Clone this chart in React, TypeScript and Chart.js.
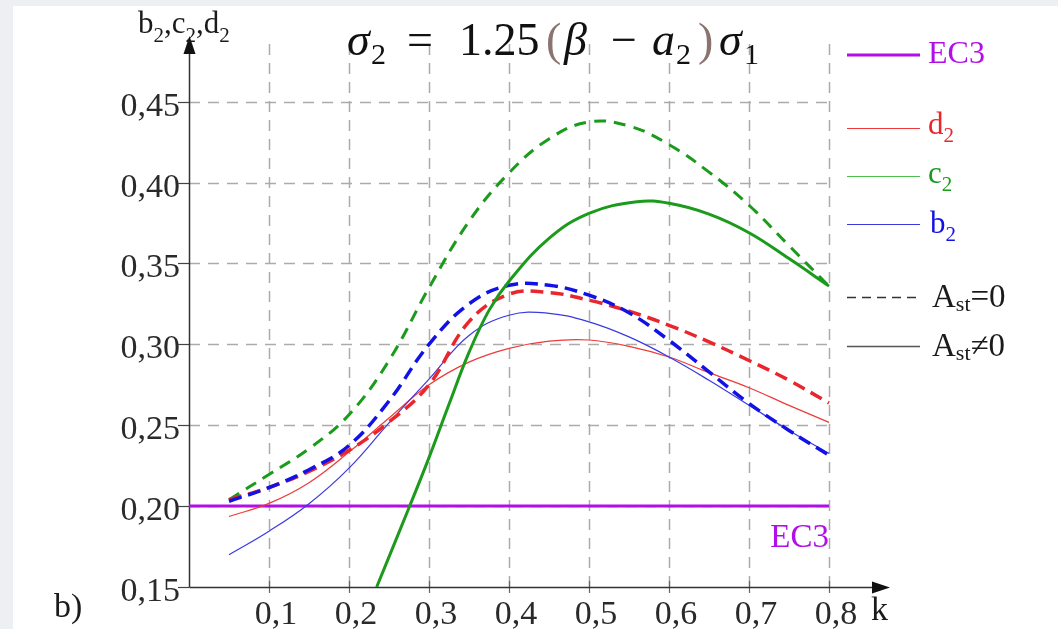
import React, { useEffect, useRef } from "react";
import { Chart, registerables } from "chart.js";

Chart.register(...registerables);

// ---- data ----
const K = [0.05, 0.1, 0.15, 0.2, 0.25, 0.3, 0.35, 0.4, 0.45, 0.5, 0.55, 0.6, 0.65, 0.7, 0.75, 0.8];

// A_st = 0 (dashed)
const D2_AST0 = [0.204, 0.2115, 0.2215, 0.2345, 0.252, 0.275, 0.314, 0.331, 0.332, 0.3273, 0.3205, 0.3118, 0.3015, 0.29, 0.2778, 0.2637];
const C2_AST0 = [0.204, 0.2196, 0.2355, 0.2565, 0.29, 0.335, 0.376, 0.406, 0.427, 0.4375, 0.435, 0.4235, 0.4065, 0.386, 0.361, 0.336];
const B2_AST0 = [0.203, 0.2115, 0.2225, 0.2375, 0.265, 0.3, 0.325, 0.3365, 0.3365, 0.3304, 0.3195, 0.3025, 0.283, 0.2635, 0.2468, 0.2314];

// A_st != 0 (solid)
const D2_AST = [0.1936, 0.2017, 0.2145, 0.2334, 0.2545, 0.275, 0.289, 0.2975, 0.302, 0.3027, 0.2988, 0.2922, 0.2825, 0.2732, 0.2623, 0.2518];
const B2_AST = [0.17, 0.1845, 0.2015, 0.2235, 0.2515, 0.2785, 0.3055, 0.318, 0.3192, 0.3139, 0.3046, 0.2922, 0.2778, 0.2623, 0.2468, 0.2326];
const K_C2_AST = [0.2346, 0.275, 0.3, 0.325, 0.35, 0.375, 0.4, 0.45, 0.5, 0.56, 0.6, 0.65, 0.7, 0.75, 0.8];
const C2_AST = [0.15, 0.199, 0.23, 0.263, 0.295, 0.321, 0.339, 0.3655, 0.381, 0.3882, 0.3872, 0.3805, 0.369, 0.353, 0.336];

// EC3 reference level
const K_EC3 = [0, 0.8];
const EC3 = [0.2, 0.2];

const X_TICKS = [0.1, 0.2, 0.3, 0.4, 0.5, 0.6, 0.7, 0.8];
const Y_TICKS = [0.15, 0.2, 0.25, 0.3, 0.35, 0.4, 0.45];

// ---- styles ----
const FONT = "'Liberation Serif', 'DejaVu Serif', serif";
const MAGENTA = "#b20ee8";
const RED = "#e8262b";
const RED_THIN = "#ee3a3a";
const GREEN = "#1b9a1b";
const BLUE = "#1212e6";
const BLUE_THIN = "#3a3ae2";
const PAREN = "#8b7470";

const pts = (xs: number[], ys: number[]) => xs.map((x, i) => ({ x, y: ys[i] }));
const comma = (v: number, d: number) => v.toFixed(d).replace(".", ",");

function txt(
  ctx: CanvasRenderingContext2D,
  s: string,
  x: number,
  y: number,
  size: number,
  color = "#1a1a1a",
  italic = false,
  align: CanvasTextAlign = "left"
): number {
  ctx.font = `${italic ? "italic " : ""}${size}px ${FONT}`;
  ctx.fillStyle = color;
  ctx.textAlign = align;
  ctx.textBaseline = "alphabetic";
  ctx.fillText(s, x, y);
  return x + ctx.measureText(s).width;
}

// sequential runs: [text, size, dy, italic]
function runs(
  ctx: CanvasRenderingContext2D,
  x: number,
  y: number,
  color: string,
  parts: [string, number, number, boolean?][]
) {
  let cx = x;
  for (const [s, size, dy, it] of parts) {
    cx = txt(ctx, s, cx, y + dy, size, color, !!it);
  }
}

const decor = {
  id: "decor",
  beforeDraw(chart: any) {
    const { ctx, width, height } = chart;
    ctx.save();
    ctx.fillStyle = "#edf0f3";
    ctx.fillRect(0, 0, width, height);
    ctx.fillStyle = "#ffffff";
    ctx.fillRect(13, 6, width - 13, height - 6);
    ctx.restore();
  },
  beforeDatasetsDraw(chart: any) {
    const { ctx, chartArea } = chart;
    const xs = chart.scales.x;
    const ys = chart.scales.y;
    const x0 = xs.getPixelForValue(0);
    const x8 = xs.getPixelForValue(0.8);
    const yb = ys.getPixelForValue(0.15);
    ctx.save();
    // dashed grid
    ctx.strokeStyle = "#ababab";
    ctx.lineWidth = 1.5;
    ctx.setLineDash([11, 8]);
    for (const v of X_TICKS) {
      const px = Math.round(xs.getPixelForValue(v)) + 0.5;
      ctx.beginPath();
      ctx.moveTo(px, yb);
      ctx.lineTo(px, chartArea.top + 2);
      ctx.stroke();
    }
    for (const v of Y_TICKS) {
      if (v <= 0.15) continue;
      const py = Math.round(ys.getPixelForValue(v)) + 0.5;
      ctx.beginPath();
      ctx.moveTo(x0, py);
      ctx.lineTo(x8, py);
      ctx.stroke();
    }
    ctx.setLineDash([]);
    // tick marks
    ctx.strokeStyle = "#444";
    ctx.lineWidth = 1.2;
    for (const v of Y_TICKS) {
      const py = Math.round(ys.getPixelForValue(v)) + 0.5;
      ctx.beginPath();
      ctx.moveTo(x0 - 11, py);
      ctx.lineTo(x0, py);
      ctx.stroke();
    }
    ctx.strokeStyle = "#666";
    for (const v of X_TICKS) {
      const px = Math.round(xs.getPixelForValue(v)) + 0.5;
      ctx.beginPath();
      ctx.moveTo(px, yb - 6);
      ctx.lineTo(px, yb + 6);
      ctx.stroke();
    }
    // axes with arrows
    ctx.strokeStyle = "#333";
    ctx.fillStyle = "#111";
    ctx.lineWidth = 1.5;
    const ax = Math.round(x0) + 0.5;
    const ay = Math.round(yb) + 0.5;
    ctx.beginPath();
    ctx.moveTo(ax, ay);
    ctx.lineTo(ax, chartArea.top + 14);
    ctx.stroke();
    ctx.beginPath();
    ctx.moveTo(ax, chartArea.top - 1);
    ctx.lineTo(ax - 6, chartArea.top + 17);
    ctx.lineTo(ax + 6, chartArea.top + 17);
    ctx.closePath();
    ctx.fill();
    ctx.beginPath();
    ctx.moveTo(ax, ay);
    ctx.lineTo(chartArea.right - 10, ay);
    ctx.stroke();
    ctx.beginPath();
    ctx.moveTo(chartArea.right + 5, ay);
    ctx.lineTo(chartArea.right - 13, ay - 6);
    ctx.lineTo(chartArea.right - 13, ay + 6);
    ctx.closePath();
    ctx.fill();
    ctx.restore();
  },
  afterDraw(chart: any) {
    const { ctx } = chart;
    ctx.save();
    // title: sigma_2 = 1.25(beta - a_2) sigma_1
    const tb = 55;
    const sb = 64;
    txt(ctx, "σ", 347, tb, 46, "#111", true);
    txt(ctx, "2", 371, sb, 30, "#111");
    txt(ctx, "=", 420, tb, 46, "#111", false, "center");
    txt(ctx, "1.25", 459, tb, 46, "#111");
    txt(ctx, "(", 546, tb, 46, PAREN);
    txt(ctx, "β", 564, tb, 46, "#111", true);
    txt(ctx, "−", 624, tb, 46, "#111", false, "center");
    txt(ctx, "a", 652, tb, 46, "#111", true);
    txt(ctx, "2", 676, sb, 30, "#111");
    txt(ctx, ")", 698, tb, 46, PAREN);
    txt(ctx, "σ", 719, tb, 46, "#111", true);
    txt(ctx, "1", 744, sb, 30, "#111");

    // y-axis name b2,c2,d2
    runs(ctx, 138, 33, "#1a1a1a", [
      ["b", 31, 0],
      ["2", 21, 9],
      [",", 31, 0],
      ["c", 31, 0],
      ["2", 21, 9],
      [",", 31, 0],
      ["d", 31, 0],
      ["2", 21, 9],
    ]);

    // x-axis name and panel label
    txt(ctx, "k", 871, 620, 34);
    txt(ctx, "b)", 54, 617, 34);

    // EC3 label under the line
    txt(ctx, "EC3", 829, 547, 33, MAGENTA, false, "right");

    // legend
    const lx0 = 847;
    const lx1 = 920;
    const line = (y: number, color: string, w: number, dash: number[] = []) => {
      ctx.strokeStyle = color;
      ctx.lineWidth = w;
      ctx.setLineDash(dash);
      ctx.beginPath();
      ctx.moveTo(lx0, y);
      ctx.lineTo(lx1, y);
      ctx.stroke();
      ctx.setLineDash([]);
    };
    line(55, MAGENTA, 3);
    txt(ctx, "EC3", 928, 63, 32, MAGENTA);
    line(128.5, RED_THIN, 1.2);
    runs(ctx, 928, 134, RED, [["d", 31, 0], ["2", 21, 8]]);
    line(176.5, "#4fbf4f", 1.2);
    runs(ctx, 928, 183, GREEN, [["c", 31, 0], ["2", 21, 8]]);
    line(224.5, BLUE_THIN, 1.2);
    runs(ctx, 930, 233, BLUE, [["b", 31, 0], ["2", 21, 8]]);
    line(297.5, "#333", 1.5, [9, 6]);
    runs(ctx, 932, 307, "#1a1a1a", [["A", 33, 0], ["st", 22, 4], ["=0", 33, 0]]);
    line(346.5, "#555", 1.5);
    runs(ctx, 932, 356, "#1a1a1a", [["A", 33, 0], ["st", 22, 4], ["≠0", 33, 0]]);
    ctx.restore();
  },
};

export default function App() {
  const ref = useRef<HTMLCanvasElement>(null);

  useEffect(() => {
    if (!ref.current) return;
    const base = { pointRadius: 0, fill: false, tension: 0.4 };
    const chart = new Chart(ref.current, {
      type: "line",
      data: {
        datasets: [
          { ...base, label: "c2 (Ast≠0)", data: pts(K_C2_AST, C2_AST), borderColor: GREEN, borderWidth: 3 },
          { ...base, label: "b2 (Ast=0)", data: pts(K, B2_AST0), borderColor: BLUE, borderWidth: 3.5, borderDash: [13, 7] },
          { ...base, label: "d2 (Ast=0)", data: pts(K, D2_AST0), borderColor: RED, borderWidth: 3.5, borderDash: [13, 7] },
          { ...base, label: "c2 (Ast=0)", data: pts(K, C2_AST0), borderColor: GREEN, borderWidth: 3, borderDash: [12, 8] },
          { ...base, label: "b2 (Ast≠0)", data: pts(K, B2_AST), borderColor: BLUE_THIN, borderWidth: 1.2 },
          { ...base, label: "d2 (Ast≠0)", data: pts(K, D2_AST), borderColor: RED_THIN, borderWidth: 1.2 },
          { ...base, label: "EC3", data: pts(K_EC3, EC3), borderColor: MAGENTA, borderWidth: 3, tension: 0 },
        ],
      },
      options: {
        responsive: false,
        devicePixelRatio: 1,
        animation: false,
        events: [],
        layout: { padding: { left: 0, right: 173, top: 37, bottom: 0 } },
        plugins: { legend: { display: false }, tooltip: { enabled: false }, title: { display: false } },
        scales: {
          x: {
            type: "linear",
            min: 0,
            max: 0.87,
            grid: { display: false, drawTicks: false },
            border: { display: false },
            afterBuildTicks: (s: any) => {
              s.ticks = X_TICKS.map((v) => ({ value: v }));
            },
            afterFit: (s: any) => {
              s.height = 42;
            },
            ticks: {
              autoSkip: false,
              maxRotation: 0,
              padding: 8,
              labelOffset: 7,
              color: "#2a2a2a",
              font: { family: FONT, size: 34 },
              callback: (v: any) => comma(Number(v), 1),
            },
          },
          y: {
            type: "linear",
            min: 0.15,
            max: 0.49,
            grid: { display: false, drawTicks: false },
            border: { display: false },
            afterBuildTicks: (s: any) => {
              s.ticks = Y_TICKS.map((v) => ({ value: v }));
            },
            afterFit: (s: any) => {
              s.width = 189;
            },
            ticks: {
              autoSkip: false,
              padding: 9,
              labelOffset: 5,
              color: "#2a2a2a",
              font: { family: FONT, size: 34 },
              callback: (v: any) => comma(Number(v), 2),
            },
          },
        },
      },
      plugins: [decor],
    } as any);
    return () => chart.destroy();
  }, []);

  return (
    <div style={{ position: "absolute", left: 0, top: 0, width: 1058, height: 629 }}>
      <canvas ref={ref} width={1058} height={629} style={{ display: "block", width: 1058, height: 629 }} />
    </div>
  );
}
